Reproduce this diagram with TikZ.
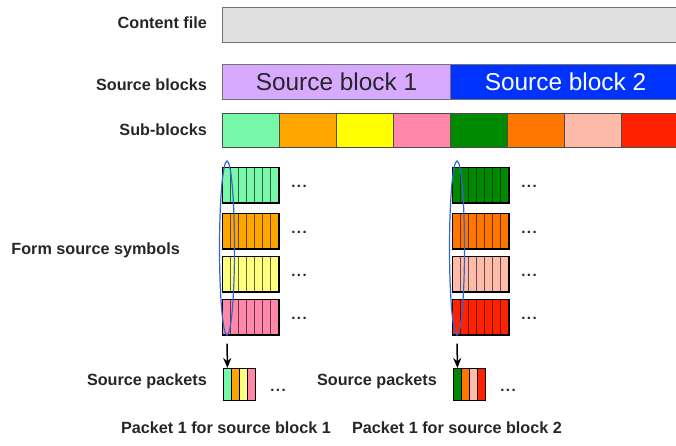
\documentclass[tikz,border=0pt]{standalone}
\usepackage{fontspec}
\setmainfont{Liberation Sans}
\usetikzlibrary{arrows.meta,shapes.geometric}
\definecolor{filegray}{HTML}{E0E0E0}
\definecolor{sbone}{HTML}{D7AAFF}
\definecolor{sbtwo}{HTML}{0033FF}
\definecolor{cA}{HTML}{78F8A8}
\definecolor{cB}{HTML}{FFA500}
\definecolor{cC}{HTML}{FFFF00}
\definecolor{cD}{HTML}{FF88AA}
\definecolor{cE}{HTML}{008A00}
\definecolor{cF}{HTML}{FF7700}
\definecolor{cG}{HTML}{FFBBAA}
\definecolor{cH}{HTML}{FF2200}
\definecolor{cCl}{HTML}{FFFF80}
\definecolor{ellblue}{HTML}{3366CC}
\begin{document}
\begin{tikzpicture}[x=1pt,y=-1pt,
  bar/.style={draw=black!55, line width=1pt, inner sep=0, anchor=north west, rectangle},
  subb/.style={draw=black!70, line width=1pt, inner sep=0, anchor=north west, rectangle, minimum width=57pt, minimum height=34pt},
  symrow/.style={draw=black, line width=1pt, inner sep=0, anchor=north west, rectangle, minimum width=56pt, minimum height=35pt},
  strip/.style={draw=black, line width=0.8pt, inner sep=0, anchor=north west, rectangle, minimum width=8pt, minimum height=32pt},
  lbl/.style={font=\bfseries\fontsize{16.2}{19}\selectfont, inner sep=0, text=black!85},
  dots/.style={font=\bfseries\fontsize{15}{18}\selectfont, inner sep=0, text=black!85},
  ell/.style={draw=ellblue, ellipse, line width=1.2pt, inner sep=0, minimum width=15pt, minimum height=174pt},
  arr/.style={-{Stealth[length=10pt,width=8pt]}, line width=1.5pt, shorten <=8pt}
]
\useasboundingbox (0,0) rectangle (676,445);
\clip (0,0) rectangle (676,445);

% labels
\node[lbl, anchor=east] (lfile) at (207,23) {Content file};
\node[lbl, anchor=east] (lsb) at (207,85) {Source blocks};
\node[lbl, anchor=east] (lsub) at (207,130) {Sub-blocks};
\node[lbl, anchor=east] (lform) at (180,250) {Form source symbols};

% content file
\node[bar, fill=filegray, minimum width=470pt, minimum height=35pt] (file) at (222,7) {};

% source blocks
\node[bar, fill=sbone, minimum width=228pt, minimum height=35pt, font=\fontsize{24.4}{27}\selectfont, text=black!85] (sb1) at (222,64) {Source block 1};
\node[bar, fill=sbtwo, minimum width=230pt, minimum height=35pt, font=\fontsize{24.4}{27}\selectfont, text=white] (sb2) at (450,64) {Source block 2\hspace{4pt}};

% sub-blocks
\foreach \c [count=\i from 0] in {cA,cB,cC,cD,cE,cF,cG,cH}{
  \node[subb, fill=\c] (sub\i) at ({222+57*\i},113) {};
}

% symbol rows
\foreach \gx/\g/\cola/\colb/\colc/\cold in {222/1/cA/cB/cCl/cD,452/2/cE/cF/cG/cH}{
  \foreach \col/\y/\r in {\cola/167/a,\colb/213/b,\colc/256/c,\cold/299/d}{
    \node[symrow, fill=\col] (row\g\r) at (\gx,\y) {};
    \foreach \k in {1,...,6}{
      \draw[line width=1pt, \col!40!black] ({\gx+8*\k},\y) -- ({\gx+8*\k},{\y+35});
    }
    \draw[line width=1pt] (row\g\r.north west) rectangle (row\g\r.south east);
    \node[dots] (dots\g\r) at ({\gx+77},{\y+19}) {.\hspace{1.5pt}.\hspace{1.5pt}.};
  }
}

% ellipses
\node[ell] (e1) at (227,248) {};
\node[ell] (e2) at (457,248) {};

% packets
\foreach \c [count=\i] in {cA,cB,cCl,cD}{
  \node[strip, fill=\c] (pa\i) at ({223+8*(\i-1)},368) {};
}
\foreach \c [count=\i] in {cE,cF,cG,cH}{
  \node[strip, fill=\c] (pb\i) at ({453+8*(\i-1)},368) {};
}
\node[dots] (pdots1) at (278,390) {.\hspace{1.5pt}.\hspace{1.5pt}.};
\node[dots] (pdots2) at (508,390) {.\hspace{1.5pt}.\hspace{1.5pt}.};

% arrows
\draw[arr] (e1.south) -- (pa1.north);
\draw[arr] (e2.south) -- (pb1.north);

% packet labels
\node[lbl, anchor=east] (lsp1) at (207,381) {Source packets};
\node[lbl, anchor=east] (lsp2) at (437,381) {Source packets};
\node[lbl] (lp1) at (226,428) {Packet 1 for source block 1};
\node[lbl] (lp2) at (457,428) {Packet 1 for source block 2};
\end{tikzpicture}
\end{document}
